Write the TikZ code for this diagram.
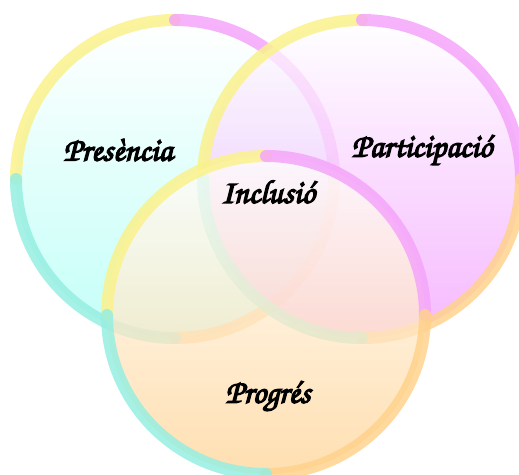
\documentclass[tikz,border=0pt]{standalone}
\usepackage{fontspec}
\newfontfamily\brush[FakeBold=4]{TeX Gyre Chorus}
\usetikzlibrary{calc, positioning}

\definecolor{ringyellow}{RGB}{250,242,140}
\definecolor{ringpink}{RGB}{245,165,250}
\definecolor{ringorange}{RGB}{255,210,140}
\definecolor{ringcyan}{RGB}{150,238,225}
\definecolor{fillcyan}{RGB}{175,255,245}
\definecolor{fillpink}{RGB}{242,160,255}
\definecolor{fillorange}{RGB}{255,212,150}

\begin{document}
\begin{tikzpicture}[x=1pt, y=1pt,
    ring/.style={line width=12pt, draw opacity=0.85, line cap=round},
    areatext/.style={font=\brush\fontsize{33}{35}\selectfont, text=black}]
    \useasboundingbox (0,0) rectangle (519,474);

    \coordinate (pres) at (175,295);
    \coordinate (part) at (362,295);
    \coordinate (prog) at (266,159);

    % circles: fill, then a ring of four quarters
    \foreach \c/\col in {pres/fillcyan, part/fillpink, prog/fillorange}{
        \shade[top color=white, bottom color=\col, fill opacity=0.75] (\c) circle (159);
        \draw[ring, ringyellow] ($(\c)+(-159,0)$) arc (180:90:159);
        \draw[ring, ringpink] ($(\c)+(0,159)$) arc (90:0:159);
        \draw[ring, ringorange] ($(\c)+(159,0)$) arc (0:-90:159);
        \draw[ring, ringcyan] ($(\c)+(0,-159)$) arc (-90:-180:159);
    }

    \node[areatext] (presencia) at (118,324) {Presència};
    \node[areatext] (participacio) at (422,324) {Participació};
    \node[areatext] (inclusio) at (268,282) {Inclusió};
    \node[areatext] (progres) at (268,78) {Progrés};
\end{tikzpicture}
\end{document}
